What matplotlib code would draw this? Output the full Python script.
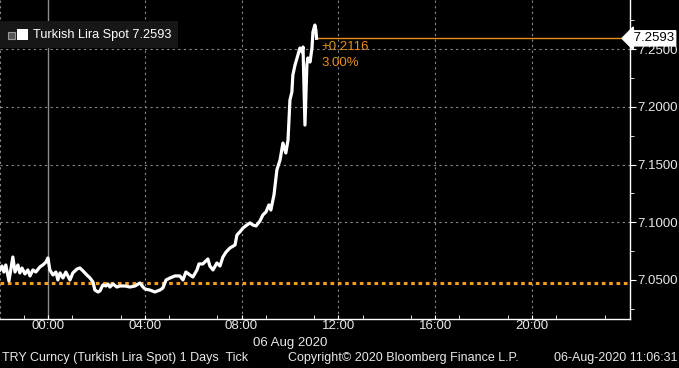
import numpy as np
import pandas as pd
import matplotlib
matplotlib.use('Agg')
import matplotlib.pyplot as plt
import matplotlib.dates as mdates
from matplotlib.patches import Rectangle
from matplotlib.ticker import MultipleLocator, FormatStrFormatter, FixedLocator
import matplotlib.transforms as mtrans

plt.rcParams['font.family'] = ['Liberation Sans', 'DejaVu Sans']

# ---- data (hours from 06 Aug 2020 00:00, TRY spot) ----
hours = [-1.98, -1.90, -1.82, -1.74, -1.61, -1.45, -1.36, -1.24, -1.16, -1.07,
         -0.95, -0.83, -0.74, -0.62, -0.50, -0.33, -0.21, -0.08, 0.00, 0.08,
         0.21, 0.33, 0.41, 0.50, 0.62, 0.74, 0.91, 1.03, 1.20, 1.32,
         1.45, 1.61, 1.74, 1.86, 1.94, 2.07, 2.15, 2.27, 2.40, 2.48,
         2.56, 2.69, 2.85, 2.98, 3.18, 3.39, 3.60, 3.80, 3.93, 4.01,
         4.21, 4.42, 4.63, 4.75, 4.88, 5.04, 5.25, 5.45, 5.58, 5.70,
         5.87, 5.99, 6.16, 6.24, 6.40, 6.61, 6.69, 6.82, 6.98, 7.11,
         7.23, 7.36, 7.52, 7.73, 7.81, 7.93, 8.06, 8.22, 8.35, 8.47,
         8.60, 8.76, 8.88, 9.01, 9.13, 9.21, 9.34, 9.46, 9.59, 9.71,
         9.83, 9.92, 10.00, 10.08, 10.12, 10.21, 10.33, 10.41, 10.50, 10.54,
         10.62, 10.70, 10.74, 10.83, 10.91, 10.95, 11.03, 11.07, 11.10]
price = [7.0587, 7.0621, 7.0569, 7.0630, 7.0491, 7.0699, 7.0569, 7.0630, 7.0561, 7.0604,
         7.0552, 7.0587, 7.0535, 7.0587, 7.0569, 7.0613, 7.0630, 7.0656, 7.0691, 7.0587,
         7.0543, 7.0569, 7.0500, 7.0561, 7.0517, 7.0569, 7.0500, 7.0561, 7.0595, 7.0604,
         7.0578, 7.0543, 7.0517, 7.0483, 7.0413, 7.0396, 7.0405, 7.0457, 7.0448, 7.0465,
         7.0439, 7.0465, 7.0439, 7.0448, 7.0448, 7.0439, 7.0448, 7.0474, 7.0439, 7.0422,
         7.0413, 7.0396, 7.0413, 7.0431, 7.0500, 7.0517, 7.0535, 7.0535, 7.0500, 7.0569,
         7.0543, 7.0526, 7.0587, 7.0639, 7.0639, 7.0682, 7.0621, 7.0587, 7.0647, 7.0621,
         7.0699, 7.0742, 7.0777, 7.0803, 7.0890, 7.0916, 7.0950, 7.0976, 7.0994, 7.0976,
         7.0968, 7.1011, 7.1063, 7.1089, 7.1150, 7.1106, 7.1236, 7.1453, 7.1539, 7.1686,
         7.1600, 7.1712, 7.2059, 7.2128, 7.2275, 7.2362, 7.2449, 7.2509, 7.2475, 7.2518,
         7.1842, 7.2362, 7.2423, 7.2388, 7.2509, 7.2648, 7.2708, 7.2665, 7.2593]
prev_close = 7.0477
last_price = 7.2593
change = 0.2116
change_pct = 3.00
y_ticks = [7.05, 7.10, 7.15, 7.20, 7.25]
x_tick_hours = [0, 4, 8, 12, 16, 20]

base = pd.Timestamp('2020-08-06')
times = base + pd.to_timedelta(hours, unit='h')
x0 = base + pd.Timedelta(hours=-1.98)
x1 = base + pd.Timedelta(hours=24.05)

W, H = 679, 368
fig = plt.figure(figsize=(W / 100, H / 100), dpi=100, facecolor='black')
ax = fig.add_axes([0, 49 / H, 630 / W, 319 / H])
ax.set_facecolor('black')

# grid
grid_kw = dict(color='#8a8a8a', ls=(0, (2, 3)), lw=0.8, zorder=1)
for y in y_ticks[1:]:
    ax.axhline(y, **grid_kw)
for h in x_tick_hours[1:]:
    ax.axvline(base + pd.Timedelta(hours=h), **grid_kw)
ax.axvline(x0, **grid_kw)
ax.axvline(base, color='#8c8c8c', lw=1, zorder=1)

# previous close + last price lines
ax.axhline(prev_close, color='#f39c1f', ls=(0, (1.2, 1.2)), lw=2.2, zorder=2)
ax.hlines(last_price, times[-1], x1, color='#e8901a', lw=1, zorder=2)

ax.plot(times, price, color='white', lw=2.3, zorder=3)

ax.annotate('+%.4f' % change, xy=(times[-1], last_price), xytext=(5, -9),
            textcoords='offset pixels', color='#e8901a', fontsize=9.5, va='center')
ax.annotate('%.2f%%' % change_pct, xy=(times[-1], last_price), xytext=(5, -25),
            textcoords='offset pixels', color='#e8901a', fontsize=9.5, va='center')

ax.set_xlim(x0, x1)
ax.set_ylim(7.0162, 7.2925)

ax.yaxis.tick_right()
ax.set_yticks(y_ticks)
ax.yaxis.set_major_formatter(FormatStrFormatter('%.4f'))
ax.yaxis.set_minor_locator(MultipleLocator(0.025))
ax.xaxis.set_major_locator(FixedLocator(mdates.date2num(
    [base + pd.Timedelta(hours=h) for h in x_tick_hours])))
ax.xaxis.set_minor_locator(mdates.HourLocator(interval=2))
ax.xaxis.set_major_formatter(mdates.DateFormatter('%H:%M'))

ax.tick_params(axis='both', which='both', colors='white', labelcolor='#e8e8e8',
               labelsize=9.5)
ax.tick_params(axis='y', which='major', direction='out', length=4, pad=1)
ax.tick_params(axis='y', which='minor', direction='out', length=3)
ax.tick_params(axis='x', which='both', direction='in', length=3, pad=1)

for s in ['left', 'top']:
    ax.spines[s].set_visible(False)
for s in ['right', 'bottom']:
    ax.spines[s].set_color('white')
    ax.spines[s].set_linewidth(1)

# last price tag on the axis
trans = mtrans.blended_transform_factory(ax.transAxes, ax.transData)
ax.text(1.0, last_price, ' 7.2593', transform=trans, ha='left', va='center',
        fontsize=9.5, color='black', clip_on=False, zorder=10,
        bbox=dict(boxstyle='larrow,pad=0.12', fc='white', ec='white'))

# legend box
fig.patches.append(Rectangle((0, 1 - 48 / H), 178 / W, 27 / H, transform=fig.transFigure,
                             fc='#171717', ec='none'))
fig.patches.append(Rectangle((8 / W, 1 - 39 / H), 7 / W, 7 / H, transform=fig.transFigure,
                             fc='#555555', ec='#999999', lw=0.8))
fig.patches.append(Rectangle((17 / W, 1 - 40 / H), 11 / W, 11 / H, transform=fig.transFigure,
                             fc='white', ec='none'))
fig.text(33 / W, 1 - 35 / H, 'Turkish Lira Spot %.4f' % last_price, color='white',
         fontsize=9.2, va='center', ha='left')

# footer
fig.text(290 / W, 1 - 343 / H, '06 Aug 2020', color='#e8e8e8', fontsize=9.5,
         ha='center', va='center')
fig.text(2 / W, 1 - 358 / H, 'TRY Curncy (Turkish Lira Spot) 1 Days  Tick', color='#e8e8e8',
         fontsize=9, ha='left', va='center')
fig.text(288 / W, 1 - 358 / H, 'Copyright\u00a9 2020 Bloomberg Finance L.P.', color='#e8e8e8',
         fontsize=9, ha='left', va='center')
fig.text(677 / W, 1 - 358 / H, '06-Aug-2020 11:06:31', color='#e8e8e8',
         fontsize=9, ha='right', va='center')

fig.savefig('out.png', dpi=100, facecolor='black')
